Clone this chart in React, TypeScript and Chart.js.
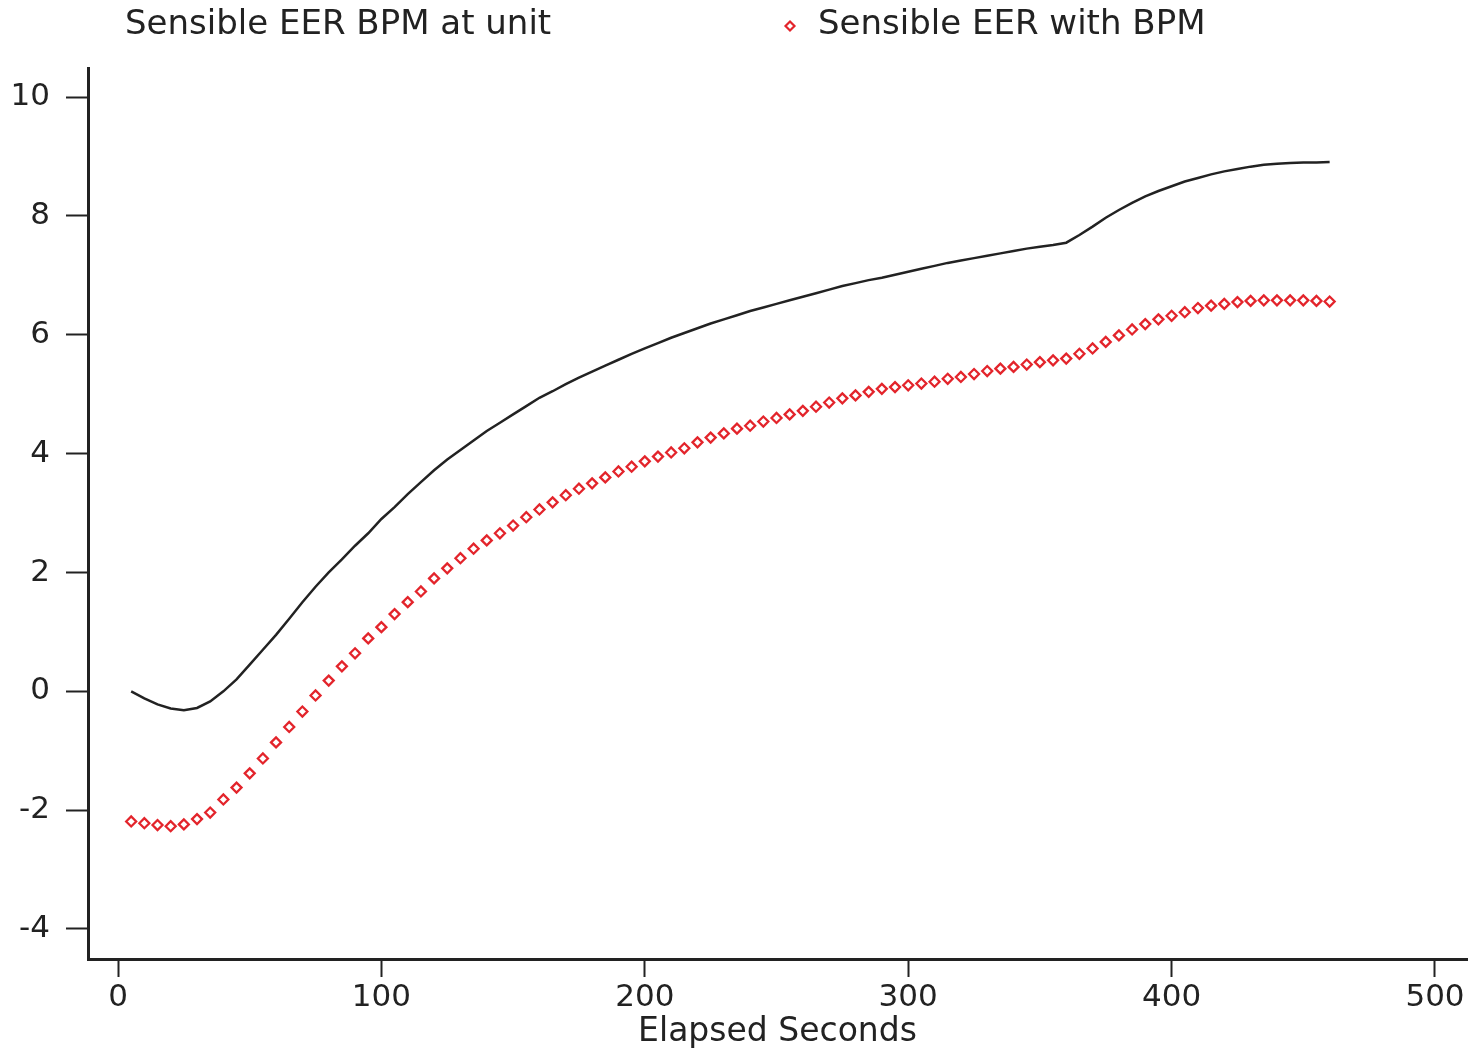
import React, { useEffect, useRef } from "react";
import { Chart, registerables } from "chart.js";

Chart.register(...registerables);

const seconds = [
  5, 10, 15, 20, 25, 30, 35, 40, 45, 50, 55, 60, 65, 70, 75, 80, 85, 90, 95, 100,
  105, 110, 115, 120, 125, 130, 135, 140, 145, 150, 155, 160, 165, 170, 175, 180, 185, 190, 195, 200,
  205, 210, 215, 220, 225, 230, 235, 240, 245, 250, 255, 260, 265, 270, 275, 280, 285, 290, 295, 300,
  305, 310, 315, 320, 325, 330, 335, 340, 345, 350, 355, 360, 365, 370, 375, 380, 385, 390, 395, 400,
  405, 410, 415, 420, 425, 430, 435, 440, 445, 450, 455, 460,
];

const eerAtUnit = [
  0.0, -0.12, -0.22, -0.29, -0.32, -0.28, -0.17, 0.0, 0.2, 0.45, 0.7, 0.95, 1.22, 1.5, 1.76, 2.0, 2.22, 2.45, 2.66, 2.9,
  3.1, 3.32, 3.52, 3.72, 3.9, 4.06, 4.22, 4.38, 4.52, 4.66, 4.8, 4.94, 5.05, 5.17, 5.28, 5.38, 5.48, 5.58, 5.68, 5.77,
  5.86, 5.95, 6.03, 6.11, 6.19, 6.26, 6.33, 6.4, 6.46, 6.52, 6.58, 6.64, 6.7, 6.76, 6.82, 6.87, 6.92, 6.96, 7.01, 7.06,
  7.11, 7.16, 7.21, 7.25, 7.29, 7.33, 7.37, 7.41, 7.45, 7.48, 7.51, 7.55, 7.68, 7.82, 7.97, 8.1, 8.22, 8.33, 8.42, 8.5,
  8.58, 8.64, 8.7, 8.75, 8.79, 8.83, 8.86, 8.88, 8.89, 8.9, 8.9, 8.91,
];

const eerWithBpm = [
  -2.19, -2.22, -2.25, -2.27, -2.24, -2.15, -2.04, -1.82, -1.62, -1.38, -1.13, -0.86, -0.6, -0.34, -0.07, 0.18, 0.42, 0.64, 0.89, 1.08,
  1.3, 1.5, 1.68, 1.9, 2.07, 2.24, 2.4, 2.54, 2.66, 2.79, 2.93, 3.06, 3.18, 3.3, 3.41, 3.5, 3.6, 3.7, 3.78, 3.87,
  3.95, 4.02, 4.09, 4.19, 4.27, 4.34, 4.42, 4.47, 4.54, 4.6, 4.66, 4.72, 4.79, 4.86, 4.93, 4.98, 5.04, 5.09, 5.12, 5.15,
  5.18, 5.21, 5.26, 5.29, 5.34, 5.39, 5.43, 5.46, 5.5, 5.54, 5.57, 5.6, 5.68, 5.77, 5.88, 5.99, 6.09, 6.18, 6.26, 6.32,
  6.38, 6.45, 6.49, 6.52, 6.55, 6.57, 6.58, 6.58, 6.58, 6.58, 6.57, 6.56,
];

const seriesLabels = ["Sensible EER BPM at unit", "Sensible EER with BPM"];
const xTitle = "Elapsed Seconds";

const FONT = "'DejaVu Sans', 'Liberation Sans', sans-serif";
const INK = "#222222";
const RED = "#e3242b";

const legendPlugin = {
  id: "customLegend",
  afterDraw(chart: any) {
    const ctx = chart.ctx;
    ctx.save();
    ctx.font = `34px ${FONT}`;
    ctx.fillStyle = INK;
    ctx.textBaseline = "middle";
    ctx.textAlign = "left";
    ctx.fillText(seriesLabels[0], 125, 25);
    ctx.strokeStyle = RED;
    ctx.lineWidth = 2.2;
    const mx = 790, my = 26, r = 4.5;
    ctx.beginPath();
    ctx.moveTo(mx, my - r);
    ctx.lineTo(mx + r, my);
    ctx.lineTo(mx, my + r);
    ctx.lineTo(mx - r, my);
    ctx.closePath();
    ctx.stroke();
    ctx.fillText(seriesLabels[1], 818, 25);
    ctx.restore();
  },
};

export default function App() {
  const canvasRef = useRef<HTMLCanvasElement | null>(null);

  useEffect(() => {
    const canvas = canvasRef.current;
    if (!canvas) return;
    const chart = new Chart(canvas, {
      type: "line",
      data: {
        datasets: [
          {
            label: seriesLabels[0],
            data: seconds.map((s, i) => ({ x: s, y: eerAtUnit[i] })),
            borderColor: INK,
            borderWidth: 2.5,
            pointRadius: 0,
            tension: 0,
            fill: false,
          },
          {
            label: seriesLabels[1],
            data: seconds.map((s, i) => ({ x: s, y: eerWithBpm[i] })),
            showLine: false,
            pointStyle: "rectRot",
            pointRadius: 5,
            pointBorderWidth: 2.3,
            pointBorderColor: RED,
            pointBackgroundColor: "rgba(255,255,255,0)",
            borderColor: RED,
          },
        ],
      },
      options: {
        animation: false,
        responsive: true,
        maintainAspectRatio: false,
        layout: { padding: { top: 68, right: 11, bottom: 0, left: 0 } },
        plugins: {
          legend: { display: false },
          tooltip: { enabled: false },
        },
        scales: {
          x: {
            type: "linear",
            min: -11.39,
            max: 512.15,
            afterFit: (scale: any) => {
              scale.height = 92;
            },
            ticks: {
              stepSize: 100,
              includeBounds: false,
              color: INK,
              padding: 2,
              maxRotation: 0,
              font: { family: FONT, size: 31 },
            },
            grid: {
              display: true,
              drawOnChartArea: false,
              drawTicks: true,
              tickLength: 18,
              tickWidth: 2,
              tickColor: INK,
            },
            border: { display: true, color: INK, width: 3 },
            title: {
              display: true,
              text: xTitle,
              color: INK,
              font: { family: FONT, size: 33, lineHeight: 1.1 },
              padding: { top: 0, bottom: 0 },
            },
          },
          y: {
            type: "linear",
            min: -4.505,
            max: 10.49,
            afterFit: (scale: any) => {
              scale.width = 88;
            },
            ticks: {
              stepSize: 2,
              includeBounds: false,
              color: INK,
              padding: 16,
              font: { family: FONT, size: 31 },
            },
            grid: {
              display: true,
              drawOnChartArea: false,
              drawTicks: true,
              tickLength: 22,
              tickWidth: 2,
              tickColor: INK,
            },
            border: { display: true, color: INK, width: 3 },
          },
        },
      },
      plugins: [legendPlugin],
    });
    return () => chart.destroy();
  }, []);

  return (
    <div
      style={{
        position: "absolute",
        left: 0,
        top: 0,
        width: 1478,
        height: 1051,
        background: "#ffffff",
      }}
    >
      <canvas ref={canvasRef} />
    </div>
  );
}
